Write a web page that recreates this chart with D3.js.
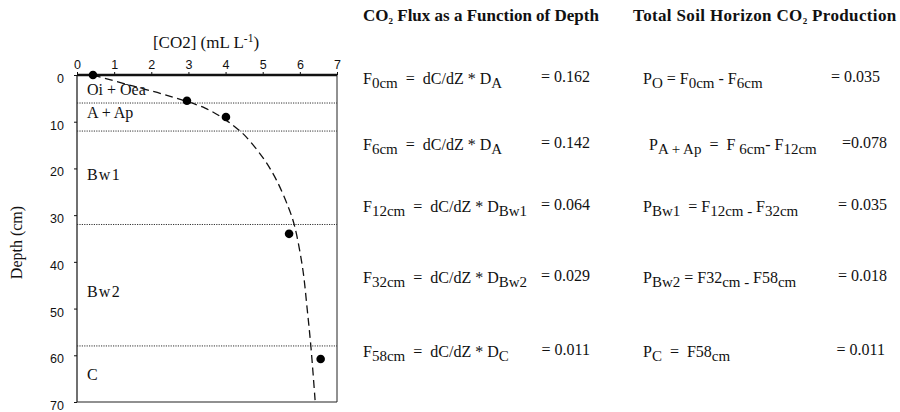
<!DOCTYPE html>
<html>
<head>
<meta charset="utf-8">
<script src="https://cdn.jsdelivr.net/npm/d3@7"></script>
<style>
  html, body { margin: 0; padding: 0; background: #fff; }
  svg { display: block; }
  text { font-family: "Liberation Serif", "Times New Roman", serif; fill: #111; }
  .tick text { font-family: "Liberation Sans", Arial, sans-serif; font-size: 12.5px; fill: #111; }
</style>
</head>
<body>
<script>
// ---------------- data ----------------
const xTicks = [0, 1, 2, 3, 4, 5, 6, 7];
const yTicks = [0, 10, 20, 30, 40, 50, 60, 70];

// measured CO2 concentration (mL L-1) vs depth (cm)
const obsConc  = [0.43, 2.96, 4.01, 5.71, 6.56];
const obsDepth = [0, 5.5, 9.0, 34.0, 60.8];

// fitted (dashed) profile
const fitConc  = [0.43, 1.50, 2.40, 3.45, 4.00, 4.33, 4.56, 5.05, 5.37, 5.69, 5.85, 6.07, 6.20, 6.30, 6.41];
const fitDepth = [0, 2.35, 4.3, 7.1, 9.6, 11.6, 13.3, 18.2, 22.5, 28.3, 32.1, 41.1, 50.3, 58.4, 69.6];

// soil horizons
const horizonNames  = ["Oi + Oea", "A + Ap", "Bw1", "Bw2", "C"];
const horizonBounds = [6, 12, 32, 58];
const horizonLabelDepth = [4.3, 9.2, 22.5, 47.5, 65.2];

// flux table
const fluxDepths   = ["0cm", "6cm", "12cm", "32cm", "58cm"];
const fluxHorizons = ["A", "A", "Bw1", "Bw2", "C"];
const fluxValues   = ["0.162", "0.142", "0.064", "0.029", "0.011"];

// production table
const prodHorizons = ["O", "A + Ap", "Bw1", "Bw2", "C"];
const prodValues   = ["0.035", "0.078", "0.035", "0.018", "0.011"];
const prodEqual    = ["= ", "=", "= ", "= ", "= "];

// ---------------- drawing ----------------
const W = 900, H = 412;
const svg = d3.select("body").append("svg").attr("width", W).attr("height", H);

const x = d3.scaleLinear().domain([0, 7]).range([77, 337]);
const y = d3.scaleLinear().domain([0, 70]).range([75, 402]);

// frame
const frame = svg.append("g");
frame.append("line").attr("x1", x(0)).attr("x2", x(0)).attr("y1", y(0)).attr("y2", y(70))
  .attr("stroke", "#111").attr("stroke-width", 1.2);
frame.append("line").attr("x1", x(7)).attr("x2", x(7)).attr("y1", y(0)).attr("y2", y(70))
  .attr("stroke", "#222").attr("stroke-width", 1);
frame.append("line").attr("x1", x(0)).attr("x2", x(7)).attr("y1", y(70)).attr("y2", y(70))
  .attr("stroke", "#222").attr("stroke-width", 1.2);

// horizon boundaries (dotted)
svg.append("g").selectAll("line").data(horizonBounds).join("line")
  .attr("x1", x(0)).attr("x2", x(7))
  .attr("y1", d => y(d)).attr("y2", d => y(d))
  .attr("stroke", "#333").attr("stroke-width", 1).attr("stroke-dasharray", "1.2,1.2");

// horizon labels
svg.append("g").selectAll("text").data(horizonNames).join("text")
  .attr("x", x(0) + 10)
  .attr("y", (d, i) => y(horizonLabelDepth[i]))
  .attr("font-size", 16)
  .attr("letter-spacing", (d, i) => (i === 2 || i === 3) ? 1.2 : 0)
  .text(d => d);

// top axis
const gx = svg.append("g").attr("transform", `translate(0,${y(0)})`)
  .call(d3.axisTop(x).tickValues(xTicks).tickSize(3).tickPadding(3).tickFormat(d3.format("d")));
gx.select(".domain").remove();
gx.selectAll(".tick line").attr("stroke", "#111");
svg.append("line").attr("x1", x(0)).attr("x2", x(7)).attr("y1", y(0)).attr("y2", y(0))
  .attr("stroke", "#111").attr("stroke-width", 2.5);

// left axis
const gy = svg.append("g").attr("transform", `translate(${x(0)},0)`)
  .call(d3.axisLeft(y).tickValues(yTicks).tickSize(3).tickPadding(10).tickFormat(d3.format("d")));
gy.select(".domain").remove();
gy.selectAll(".tick line").attr("stroke", "#111");
gy.selectAll(".tick text").attr("dy", "0.6em");

// axis titles
const xt = svg.append("text").attr("x", (x(0) + x(7)) / 2 - 1).attr("y", 48)
  .attr("text-anchor", "middle").attr("font-size", 17);
xt.append("tspan").text("[CO2] (mL L");
xt.append("tspan").attr("dy", -6).attr("font-size", 11.5).text("-1");
xt.append("tspan").attr("dy", 6).text(")");

svg.append("text")
  .attr("transform", `translate(22,${(y(0) + y(70)) / 2 + 4}) rotate(-90)`)
  .attr("text-anchor", "middle").attr("font-size", 16)
  .text("Depth (cm)");

// fitted curve
const line = d3.line().x(d => x(d[0])).y(d => y(d[1])).curve(d3.curveCatmullRom.alpha(0.5));
svg.append("path")
  .datum(fitConc.map((c, i) => [c, fitDepth[i]]))
  .attr("d", line)
  .attr("fill", "none").attr("stroke", "#111").attr("stroke-width", 1.3)
  .attr("stroke-dasharray", "8,4.5");

// observations
svg.append("g").selectAll("circle").data(obsConc).join("circle")
  .attr("cx", d => x(d)).attr("cy", (d, i) => y(obsDepth[i]))
  .attr("r", 4.3).attr("fill", "#000");

// ---------------- equations ----------------
function rich(g, xPos, yPos, segs, size) {
  const t = g.append("text").attr("x", xPos).attr("y", yPos).attr("font-size", size)
    .style("white-space", "pre");
  let low = false;
  segs.forEach(s => {
    const sub = s[1] === 1;
    const ts = t.append("tspan").text(s[0]);
    if (sub && !low) { ts.attr("dy", 4).attr("font-size", 15); low = true; }
    else if (sub) { ts.attr("font-size", 15); }
    else if (!sub && low) { ts.attr("dy", -4); low = false; }
  });
  return t;
}

const rowY = [84, 150, 212, 283, 357];
const eq = svg.append("g");

// titles
function title(xPos, pre, post, ls) {
  const t = eq.append("text").attr("x", xPos).attr("y", 21)
    .attr("font-size", 17).attr("font-weight", "bold").attr("letter-spacing", ls);
  t.append("tspan").text(pre);
  t.append("tspan").attr("dy", 3).attr("font-size", 9).text("2");
  t.append("tspan").attr("dy", -3).text(post);
}
title(363, "CO", " Flux as a Function of Depth", 0);
title(633, "Total Soil Horizon CO", " Production", 0.35);

// flux rows
fluxDepths.forEach((dpt, i) => {
  rich(eq, 363, rowY[i], [["F", 0], [dpt, 1], ["  =  dC/dZ * D", 0], [fluxHorizons[i], 1]], 16);
  eq.append("text").attr("x", 590).attr("y", rowY[i] - 2).attr("text-anchor", "end")
    .attr("font-size", 16).style("white-space", "pre").text("= " + fluxValues[i]);
});

// production rows
const prodSegs = [
  [["P", 0], [prodHorizons[0], 1], [" = F", 0], ["0cm", 1], [" - F", 0], ["6cm", 1]],
  [["P", 0], [prodHorizons[1], 1], ["  =  F ", 0], ["6cm", 1], ["- ", 0], ["F", 0], ["12cm", 1]],
  [["P", 0], [prodHorizons[2], 1], ["  = F", 0], ["12cm - ", 1], ["F", 0], ["32cm", 1]],
  [["P", 0], [prodHorizons[3], 1], [" = F32", 0], ["cm - ", 1], ["F58", 0], ["cm", 1]],
  [["P", 0], [prodHorizons[4], 1], ["  =  F58", 0], ["cm", 1]]
];
const prodX = [643, 649, 643, 643, 643];
const prodEnd = [880, 887, 887, 887, 885];
prodSegs.forEach((segs, i) => {
  rich(eq, prodX[i], rowY[i], segs, 16);
  eq.append("text").attr("x", prodEnd[i]).attr("y", rowY[i] - 2).attr("text-anchor", "end")
    .attr("font-size", 16).style("white-space", "pre").text(prodEqual[i] + prodValues[i]);
});
</script>
</body>
</html>
